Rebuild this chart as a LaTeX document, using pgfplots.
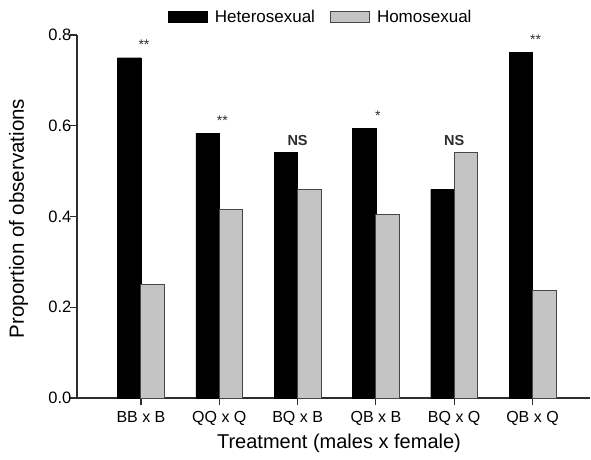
\documentclass[border=0pt]{standalone}
\usepackage{pgfplots}
\pgfplotsset{compat=1.18}
\usepackage{fontspec}
\setmainfont{Liberation Sans}
\definecolor{bargray}{RGB}{196,196,196}
\definecolor{axisgray}{RGB}{45,45,45}
\definecolor{edgegray}{RGB}{70,70,70}
\begin{document}
\begin{tikzpicture}
\begin{axis}[
  at={(0pt,0pt)}, anchor=south west,
  scale only axis, width=513pt, height=363pt,
  xmin=-0.817, xmax=5.734, ymin=0, ymax=0.8,
  axis x line*=bottom, axis y line*=left,
  axis line style={axisgray, line width=1.2pt},
  every tick/.style={axisgray, line width=1.1pt},
  tick align=outside, major tick length=6.5pt,
  ytick={0,0.2,0.4,0.6,0.8},
  xtick={0,1,2,3,4,5},
  xticklabels={BB x B, QQ x Q, BQ x B, QB x B, BQ x Q, QB x Q},
  yticklabel style={/pgf/number format/fixed, /pgf/number format/fixed zerofill, /pgf/number format/precision=1, /pgf/number format/assume math mode=true},
  yticklabel style={font=\fontsize{16.5}{16.5}\selectfont, inner sep=2pt, xshift=3pt},
  xticklabel style={font=\fontsize{16}{16}\selectfont, inner sep=2pt, yshift=-5pt},
  ybar, bar width=23.5pt,
  xlabel={Treatment (males x female)},
  ylabel={Proportion of observations},
  xlabel style={font=\fontsize{20}{20}\selectfont, at={(axis description cs:0.5107,-0.124)}, anchor=center},
  ylabel style={font=\fontsize{20.5}{20.5}\selectfont, at={(axis description cs:-0.114,0.4945)}, anchor=center},
  legend style={at={(axis description cs:0.4756,1.0496)}, anchor=center, draw=none, fill=none,
    font=\fontsize{17}{17}\selectfont, legend columns=2,
    /tikz/every odd column/.append style={column sep=5pt},
    /tikz/every even column/.append style={column sep=13pt}},
  legend image code/.code={\draw[#1] (0pt,-5.5pt) rectangle (39pt,5.5pt);},
  legend cell align=left,
  clip=false,
]
\addplot[fill=black, draw=black, bar shift=-11.75pt] coordinates {
  (0,0.750) (1,0.584) (2,0.541) (3,0.595) (4,0.460) (5,0.762)};
\addplot[fill=bargray, draw=edgegray, line width=1pt, bar shift=11.75pt] coordinates {
  (0,0.250) (1,0.416) (2,0.459) (3,0.405) (4,0.540) (5,0.238)};
\legend{Heterosexual, Homosexual}
\node[font=\fontsize{14}{14}\selectfont, text=axisgray, xshift=3pt] at (axis cs:0,0.778) {**};
\node[font=\fontsize{14}{14}\selectfont, text=axisgray, xshift=3pt] at (axis cs:1,0.612) {**};
\node[font=\fontsize{14.5}{14.5}\selectfont\bfseries, text=axisgray] at (axis cs:2,0.568) {NS};
\node[font=\fontsize{14}{14}\selectfont, text=axisgray, xshift=2pt] at (axis cs:3,0.622) {*};
\node[font=\fontsize{14.5}{14.5}\selectfont\bfseries, text=axisgray] at (axis cs:4,0.567) {NS};
\node[font=\fontsize{14}{14}\selectfont, text=axisgray, xshift=3pt] at (axis cs:5,0.789) {**};
\end{axis}
\pgfresetboundingbox
\path[use as bounding box] (-77pt,-61pt) rectangle (514pt,398pt);
\end{tikzpicture}
\end{document}
